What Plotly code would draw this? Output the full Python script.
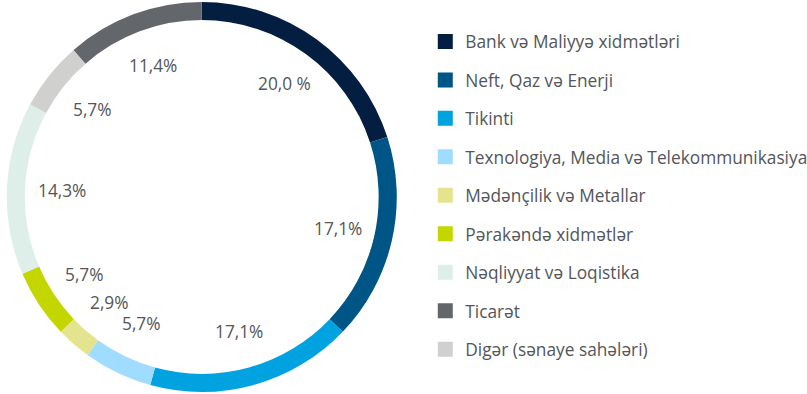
import math
import plotly.graph_objects as go

# Sectors, in the order they run clockwise round the ring from 12 o'clock
sectors = [
    "Bank və Maliyyə xidmətləri",
    "Neft, Qaz və Enerji",
    "Tikinti",
    "Texnologiya, Media və Telekommunikasiya",
    "Mədənçilik və Metallar",
    "Pərakəndə xidmətlər",
    "Nəqliyyat və Loqistika",
    "Digər (sənaye sahələri)",
    "Ticarət",
]
shares = [20.0, 17.1, 17.1, 5.7, 2.9, 5.7, 14.3, 5.7, 11.4]
share_labels = ["20,0 %", "17,1%", "17,1%", "5,7%", "2,9%", "5,7%", "14,3%", "5,7%", "11,4%"]
colors = ["#041e42", "#005587", "#00a3e0", "#a0dcff", "#e3e48d",
          "#c4d600", "#ddefe8", "#d0d0ce", "#63666a"]

# Legend lists the sectors in a slightly different order
legend_order = [
    "Bank və Maliyyə xidmətləri",
    "Neft, Qaz və Enerji",
    "Tikinti",
    "Texnologiya, Media və Telekommunikasiya",
    "Mədənçilik və Metallar",
    "Pərakəndə xidmətlər",
    "Nəqliyyat və Loqistika",
    "Ticarət",
    "Digər (sənaye sahələri)",
]

W, H = 807, 394
FONT = "Open Sans"
TEXT_COLOR = "#53565a"
FONT_SIZE = 17.3

fig = go.Figure()

fig.add_trace(go.Pie(
    labels=sectors,
    values=shares,
    hole=0.907,
    sort=False,
    direction="clockwise",
    rotation=0,
    textinfo="none",
    hoverinfo="label+percent",
    marker=dict(colors=colors, line=dict(width=0)),
    domain=dict(x=[0, 0.5], y=[0.005, 0.995]),
    showlegend=False,
))

# Legend entries as square markers, one group each so the gap can be set
color_of = dict(zip(sectors, colors))
for name in legend_order:
    fig.add_trace(go.Scatter(
        x=[None], y=[None], mode="markers", name=name,
        legendgroup=name,
        marker=dict(symbol="square", size=15, color=color_of[name]),
    ))

# Percentage labels placed inside the ring at each sector's mid-angle
cx, cy = 0.25 * W, 0.5 * H
label_r = 140
total = sum(shares)
start = 0.0
for val, txt in zip(shares, share_labels):
    mid = (start + val / 2) / total * 2 * math.pi
    start += val
    px = cx + label_r * math.sin(mid)
    py = cy - label_r * math.cos(mid)
    fig.add_annotation(
        x=px / W, y=1 - py / H, xref="paper", yref="paper",
        text=txt, showarrow=False,
        font=dict(family=FONT, size=FONT_SIZE, color=TEXT_COLOR),
        xanchor="center", yanchor="middle",
    )

fig.update_layout(
    width=W, height=H,
    margin=dict(l=0, r=0, t=0, b=0, autoexpand=False),
    paper_bgcolor="white",
    plot_bgcolor="white",
    xaxis=dict(visible=False),
    yaxis=dict(visible=False),
    legend=dict(
        x=0.527, y=0.94, xanchor="left", yanchor="top",
        font=dict(family=FONT, size=FONT_SIZE, color=TEXT_COLOR),
        tracegroupgap=13,
        traceorder="grouped",
        bgcolor="rgba(0,0,0,0)",
    ),
)

fig.write_html("out.html")
